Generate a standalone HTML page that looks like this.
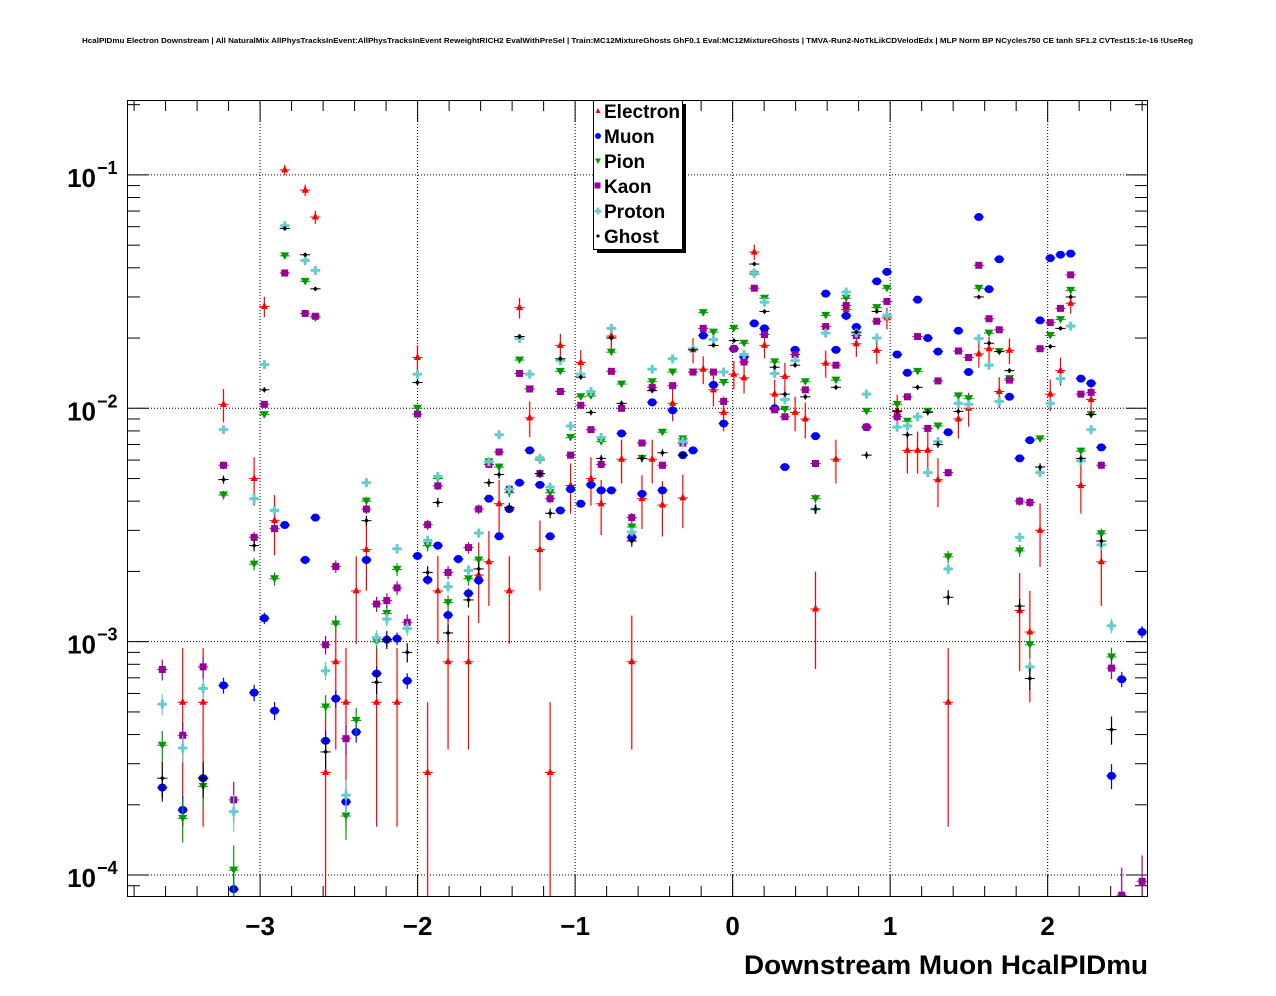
<!DOCTYPE html>
<html><head><meta charset="utf-8"><style>
html,body{margin:0;padding:0;background:#fff;}
svg{display:block;font-family:"Liberation Sans",Arial,sans-serif;}
</style></head><body>
<svg id="chart" width="1276" height="996" viewBox="0 0 1276 996" xmlns="http://www.w3.org/2000/svg">
<rect x="0" y="0" width="1276" height="996" fill="#fff"/>
<text x="82" y="43" font-size="7.2" font-weight="bold" textLength="1111" lengthAdjust="spacingAndGlyphs">HcalPIDmu Electron Downstream | All NaturalMix AllPhysTracksInEvent:AllPhysTracksInEvent ReweightRICH2 EvalWithPreSel | Train:MC12MixtureGhosts GhF0.1 Eval:MC12MixtureGhosts | TMVA-Run2-NoTkLikCDVelodEdx | MLP Norm BP NCycles750 CE tanh SF1.2 CVTest15:1e-16 !UseReg</text>
<g id="grid"></g>
<g id="axes"></g>
<g id="marks" clip-path="url(#plotclip)"></g>
<defs><clipPath id="plotclip"><rect x="127" y="100" width="1021" height="797"/></clipPath></defs>
<rect x="127.5" y="100.5" width="1020" height="796" fill="none" stroke="#000" stroke-width="1"/>
<g id="legend"></g>
<text x="744" y="974" font-size="27" font-weight="bold" textLength="404" lengthAdjust="spacingAndGlyphs">Downstream Muon HcalPIDmu</text>
</svg>
<script>
// ---- data (bin indices and values per species) ----
const electronBins=[2,4,6,9,10,11,12,14,15,16,17,18,19,20,21,23,25,26,27,28,30,31,32,33,34,35,36,37,38,39,40,41,42,43,44,45,46,47,48,49,50,51,52,53,54,55,56,57,58,59,60,61,62,63,64,65,66,67,68,70,71,72,73,74,75,76,77,78,79,80,81,82,83,84,85,86,87,88,89,90,91,92];
const electronVals=[5.5e-4,5.5e-4,1.04e-2,5.0e-3,2.73e-2,3.3e-3,0.105,8.6e-2,6.6e-2,2.75e-4,8.2e-4,5.5e-4,1.65e-3,2.48e-3,5.5e-4,5.5e-4,1.65e-2,2.75e-4,1.65e-3,8.2e-4,8.2e-4,1.93e-3,2.2e-3,3.9e-3,1.65e-3,2.7e-2,9.1e-3,2.48e-3,2.75e-4,1.86e-2,4.67e-3,1.57e-2,5.0e-3,3.9e-3,2.04e-2,6.05e-3,8.2e-4,4.1e-3,6.05e-3,3.85e-3,1.05e-2,4.13e-3,1.78e-2,1.47e-2,1.2e-2,9.6e-3,1.4e-2,1.35e-2,4.67e-2,1.86e-2,1.15e-2,1.37e-2,9.6e-3,9.0e-3,1.38e-3,1.56e-2,6.05e-3,2.65e-2,1.89e-2,1.77e-2,2.44e-2,9.8e-3,6.6e-3,6.6e-3,6.6e-3,4.94e-3,5.5e-4,9.0e-3,1.0e-2,1.71e-2,1.8e-2,1.18e-2,1.77e-2,1.36e-3,1.1e-3,3.0e-3,1.15e-2,1.45e-2,2.82e-2,4.67e-3,1.09e-2,2.2e-3];
const muonBins=[0,2,4,6,7,9,10,11,12,14,15,16,17,18,19,20,21,22,23,24,25,26,27,28,29,30,31,32,33,34,35,36,37,38,39,40,41,42,43,44,45,46,47,48,49,50,51,52,53,54,55,56,57,58,59,60,61,62,64,65,66,67,68,69,70,71,72,73,74,75,76,77,78,79,80,81,82,83,84,85,86,87,88,89,90,91,92,93,94,96];
const muonVals=[2.37e-4,1.9e-4,2.6e-4,6.5e-4,8.7e-5,6.05e-4,1.26e-3,5.06e-4,3.16e-3,2.24e-3,3.4e-3,3.76e-4,5.7e-4,2.06e-4,4.1e-4,2.24e-3,7.3e-4,1.02e-3,1.03e-3,6.8e-4,2.33e-3,1.84e-3,2.58e-3,1.3e-3,2.26e-3,1.61e-3,1.83e-3,4.1e-3,2.83e-3,3.7e-3,4.8e-3,6.6e-3,4.7e-3,2.83e-3,3.65e-3,4.5e-3,3.9e-3,4.7e-3,4.45e-3,4.45e-3,7.8e-3,2.8e-3,4.3e-3,1.06e-2,4.45e-3,9.8e-3,6.3e-3,6.6e-3,2.05e-2,1.26e-2,8.6e-3,1.8e-2,1.66e-2,2.31e-2,2.2e-2,1.0e-2,5.6e-3,1.78e-2,7.6e-3,3.1e-2,1.78e-2,2.49e-2,2.23e-2,8.3e-3,3.5e-2,3.84e-2,1.7e-2,1.42e-2,2.92e-2,2.0e-2,1.75e-2,7.9e-3,2.15e-2,1.43e-2,6.6e-2,3.24e-2,4.35e-2,1.12e-2,6.1e-3,7.3e-3,2.38e-2,4.4e-2,4.55e-2,4.6e-2,1.34e-2,1.28e-2,6.8e-3,2.66e-4,6.9e-4,1.1e-3];
const pionBins=[0,2,4,6,7,9,10,11,12,14,15,16,17,18,19,20,21,22,23,25,26,27,28,30,31,32,33,34,35,36,37,38,39,40,41,42,43,44,45,46,47,48,49,50,51,52,53,54,55,56,57,58,59,60,61,63,64,65,66,67,69,70,71,72,73,74,75,76,77,78,79,80,81,82,83,84,85,86,87,88,89,90,91,92,93];
const pionVals=[3.6e-4,1.75e-4,2.4e-4,4.25e-3,1.05e-4,2.15e-3,9.4e-3,1.86e-3,4.5e-2,3.5e-2,2.44e-2,5.25e-4,1.19e-3,1.79e-4,4.6e-4,4.0e-3,1.0e-3,1.32e-3,2.04e-3,1.0e-2,2.58e-3,5.0e-3,1.47e-3,1.86e-3,2.24e-3,5.9e-3,5.6e-3,4.35e-3,1.61e-2,1.21e-2,6.0e-3,4.35e-3,1.44e-2,7.5e-3,1.12e-2,1.13e-2,7.2e-3,1.74e-2,1.27e-2,3.1e-3,6.1e-3,1.3e-2,7.9e-3,1.43e-2,7.4e-3,1.43e-2,2.57e-2,2.12e-2,1.29e-2,2.2e-2,1.9e-2,3.75e-2,2.96e-2,1.58e-2,9.9e-3,1.3e-2,4.1e-3,2.5e-2,1.32e-2,2.96e-2,9.7e-3,2.7e-2,3.27e-2,1.04e-2,8.8e-3,1.44e-2,9.7e-3,8.4e-3,2.31e-3,1.13e-2,1.1e-2,3.27e-2,2.1e-2,1.75e-2,1.34e-2,2.45e-3,9.7e-4,7.4e-3,2.05e-2,2.4e-2,3.2e-2,6.55e-3,9.4e-3,2.9e-3,8.6e-4];
const kaonBins=[0,2,4,6,7,9,10,11,12,14,15,16,17,18,20,21,22,23,24,25,26,27,28,30,31,32,33,34,35,36,37,38,39,40,41,42,43,44,45,46,47,48,49,50,51,52,53,54,55,56,57,58,59,60,61,62,63,64,65,66,67,68,69,70,71,72,73,74,75,76,77,78,79,80,81,82,83,84,85,86,87,88,89,90,91,92,93,94,96];
const kaonVals=[7.6e-4,3.97e-4,7.8e-4,5.7e-3,2.1e-4,2.8e-3,1.04e-2,3.05e-3,3.8e-2,2.55e-2,2.48e-2,9.7e-4,2.1e-3,3.84e-4,3.7e-3,1.45e-3,1.5e-3,1.7e-3,1.21e-3,9.45e-3,3.17e-3,4.65e-3,1.98e-3,2.53e-3,3.7e-3,5.75e-3,6.5e-3,4.5e-3,1.41e-2,1.21e-2,5.25e-3,4.1e-3,1.18e-2,6.3e-3,1.03e-2,8.1e-3,5.75e-3,1.44e-2,1.0e-2,3.4e-3,7.1e-3,1.23e-2,5.7e-3,1.25e-2,7.1e-3,1.43e-2,2.2e-2,1.43e-2,1.07e-2,1.8e-2,1.58e-2,3.27e-2,2.07e-2,9.85e-3,9.2e-3,1.7e-2,1.2e-2,5.8e-3,2.24e-2,1.53e-2,2.76e-2,2.05e-2,8.3e-3,2.36e-2,2.87e-2,9.2e-3,1.12e-2,2.03e-2,8.2e-3,1.31e-2,5.3e-3,1.76e-2,1.65e-2,4.1e-2,2.42e-2,2.17e-2,1.32e-2,4.0e-3,3.95e-3,1.8e-2,2.33e-2,2.68e-2,3.73e-2,1.15e-2,1.17e-2,5.7e-3,7.7e-4,8.2e-5,9.4e-5];
const protonBins=[0,2,4,6,7,9,10,11,12,14,15,16,18,20,21,22,23,24,25,26,27,28,30,31,32,33,34,35,36,37,38,39,40,41,42,43,44,46,48,50,51,52,54,55,57,58,59,60,61,62,64,65,67,68,69,70,71,72,73,74,75,76,77,78,79,80,81,82,84,85,86,87,88,89,90,91,92,93];
const protonVals=[5.4e-4,3.5e-4,6.3e-4,8.1e-3,1.87e-4,4.1e-3,1.54e-2,3.65e-3,6.06e-2,4.3e-2,3.9e-2,7.5e-4,2.2e-4,4.8e-3,1.04e-3,1.25e-3,2.5e-3,1.14e-3,1.4e-2,2.72e-3,5.1e-3,1.72e-3,2.02e-3,2.92e-3,5.9e-3,7.7e-3,4.5e-3,1.99e-2,1.4e-2,6.1e-3,4.6e-3,1.6e-2,8.4e-3,1.4e-2,1.18e-2,7.5e-3,2.2e-2,2.95e-3,1.47e-2,1.63e-2,7.2e-3,1.8e-2,1.97e-2,1.43e-2,1.7e-2,3.8e-2,2.85e-2,1.41e-2,1.09e-2,1.6e-2,3.7e-3,2.1e-2,3.15e-2,2.1e-2,1.15e-2,2.0e-2,2.5e-2,8.3e-3,8.4e-3,9.2e-3,5.3e-3,7.2e-3,2.05e-3,1.05e-2,1.04e-2,1.99e-2,1.53e-2,1.07e-2,2.8e-3,7.8e-4,5.3e-3,1.05e-2,1.34e-2,2.25e-2,5.95e-3,8.1e-3,2.6e-3,1.17e-3];
const ghostBins=[0,4,6,9,10,12,14,15,16,20,21,22,24,25,26,27,28,30,31,32,33,34,35,37,38,39,41,42,43,44,45,46,47,48,49,51,52,54,56,58,59,60,61,62,63,64,66,68,69,70,72,73,74,75,76,77,78,80,81,82,83,84,85,86,87,88,89,90,91,92,93];
const ghostVals=[2.6e-4,2.6e-4,4.95e-3,2.58e-3,1.2e-2,5.9e-2,4.55e-2,3.25e-2,3.37e-4,3.3e-3,6.7e-4,1.02e-3,9e-4,1.29e-2,1.98e-3,3.95e-3,1.09e-3,1.51e-3,2.05e-3,4.8e-3,5.2e-3,3.76e-3,2.03e-2,5.25e-3,3.55e-3,1.63e-2,1.36e-2,9.6e-3,6.1e-3,2.0e-2,1.05e-2,2.7e-3,6.1e-3,1.19e-2,6.45e-3,6.3e-3,1.78e-2,1.86e-2,1.95e-2,4.15e-2,2.6e-2,1.5e-2,1.15e-2,1.53e-2,1.12e-2,3.7e-3,1.23e-2,2.12e-2,6.3e-3,2.6e-2,9.7e-3,7.7e-3,1.23e-2,9.6e-3,7.0e-3,1.55e-3,9.7e-3,3.0e-2,1.9e-2,1.75e-2,1.45e-2,1.42e-3,6.95e-4,5.6e-3,1.84e-2,2.2e-2,3.0e-2,6.1e-3,9.4e-3,2.7e-3,4.2e-4];
const xTickLabels=["\u22123","\u22122","\u22121","0","1","2"];
const xTickValues=[-3,-2,-1,0,1,2];
const yDecades=[-1,-2,-3,-4];
const legendLabels=["Electron","Muon","Pion","Kaon","Proton","Ghost"];

// ---- axes ----
const X0=127,X1=1148,Y0=100,Y1=897;
const xMin=-3.8450,xMax=2.6370;
const logMin=-4.094,logMax=-0.679;
const binFirst=-3.621,binW=0.0648;
function xs(v){return X0+(v-xMin)/(xMax-xMin)*(X1-X0);}
function ys(v){return Y1-(Math.log10(v)-logMin)/(logMax-logMin)*(Y1-Y0);}
function binCenter(k){return binFirst+k*binW;}
const NS="http://www.w3.org/2000/svg";
function mk(tag,attrs,parent){const e=document.createElementNS(NS,tag);for(const k in attrs)e.setAttribute(k,attrs[k]);parent.appendChild(e);return e;}
const grid=document.getElementById('grid'),axes=document.getElementById('axes'),marks=document.getElementById('marks'),legend=document.getElementById('legend');

xTickValues.forEach(v=>{const l=mk('line',{x1:xs(v),x2:xs(v),y1:Y0,y2:Y1,stroke:'#000','stroke-width':1,'stroke-dasharray':'1,2'},grid);

});
yDecades.forEach(d=>{const y=ys(Math.pow(10,d));const l=mk('line',{x1:X0,x2:X1,y1:y,y2:y,stroke:'#000','stroke-width':1,'stroke-dasharray':'1,2'},grid);

});

for(let i=-19;i<=13;i++){const v=i*0.2;if(v<xMin||v>xMax)continue;const major=Math.abs(v-Math.round(v))<1e-6;const L=major?22:11;const x=xs(v);
const t1=mk('line',{x1:x,x2:x,y1:Y1,y2:Y1-L,stroke:'#000'},axes);


const t2=mk('line',{x1:x,x2:x,y1:Y0,y2:Y0+L,stroke:'#000'},axes);

}
xTickValues.forEach((v,i)=>{const t=mk('text',{x:xs(v),y:935,'font-size':26,'font-weight':'bold','text-anchor':'middle'},axes);t.textContent=xTickLabels[i];

});

for(let d=-5;d<=-1;d++){for(let m=1;m<=9;m++){const v=m*Math.pow(10,d);const lv=Math.log10(v);if(lv<logMin||lv>logMax)continue;const L=m===1?22:13;const y=ys(v);
const t1=mk('line',{x1:X0,x2:X0+L,y1:y,y2:y,stroke:'#000'},axes);


const t2=mk('line',{x1:X1,x2:X1-L,y1:y,y2:y,stroke:'#000'},axes);

}}
yDecades.forEach(d=>{const y=ys(Math.pow(10,d));const t=mk('text',{x:96,y:y+12,'font-size':26,'font-weight':'bold','text-anchor':'end'},axes);t.textContent='10';


const s=mk('text',{x:97,y:y-1,'font-size':18,'font-weight':'bold'},axes);s.textContent='\u2212'+(-d);

});

function marker(g,type,x,y,col){
  if(type==='tri')mk('polygon',{points:`${x},${y-4.5} ${x-3.5},${y+2.5} ${x+3.5},${y+2.5}`,fill:col},g);
  else if(type==='circ')mk('ellipse',{cx:x,cy:y,rx:4.5,ry:4,fill:col},g);
  else if(type==='tridown')mk('polygon',{points:`${x-4.5},${y-3.5} ${x+4.5},${y-3.5} ${x},${y+4}`,fill:col},g);
  else if(type==='sq')mk('rect',{x:x-3.5,y:y-3.5,width:7,height:7,fill:col},g);
  else if(type==='cross'){mk('rect',{x:x-4.5,y:y-1.5,width:9,height:3,fill:col},g);mk('rect',{x:x-1.5,y:y-4.5,width:3,height:9,fill:col},g);}
  else if(type==='dot')mk('polygon',{points:`${x},${y-2.5} ${x+2.5},${y} ${x},${y+2.5} ${x-2.5},${y}`,fill:col},g);
}
const series=[
 {name:'electron',bins:electronBins,vals:electronVals,col:'#ff0000',type:'tri',unit:2.75e-4},
 {name:'muon',bins:muonBins,vals:muonVals,col:'#0000ff',type:'circ',unit:4e-6},
 {name:'pion',bins:pionBins,vals:pionVals,col:'#009900',type:'tridown',unit:8e-6},
 {name:'kaon',bins:kaonBins,vals:kaonVals,col:'#990099',type:'sq',unit:8e-6},
 {name:'proton',bins:protonBins,vals:protonVals,col:'#66cccc',type:'cross',unit:6e-6},
 {name:'ghost',bins:ghostBins,vals:ghostVals,col:'#000000',type:'dot',unit:8e-6}
];
series.forEach(s=>{
  const g=mk('g',{},marks);
  
  
  s.bins.forEach((k,i)=>{
    const v=s.vals[i];const xc=binCenter(k);const x=xs(xc),y=ys(v);
    const err=Math.sqrt(v*s.unit);
    const pg=mk('g',{},g);
    
    
    mk('line',{x1:xs(xc-binW/2),x2:xs(xc+binW/2),y1:y,y2:y,stroke:s.col,'stroke-width':1},pg);
    const lo=v-err>0?ys(v-err):Y1+20;const hi=ys(v+err);
    mk('line',{x1:x,x2:x,y1:hi,y2:lo,stroke:s.col,'stroke-width':1.2},pg);
    marker(pg,s.type,x,y,s.col);
  });
});

mk('rect',{x:597,y:104,width:89,height:149,fill:'#000'},legend);
const lb=mk('rect',{x:593.5,y:100.5,width:89,height:149,fill:'#fff',stroke:'#000','stroke-width':1},legend);


legendLabels.forEach((lab,i)=>{const y=111+i*25;const eg=mk('g',{},legend);


const s=series[i];
if(s.type==='tri')mk('polygon',{points:`598,${y-3} 595.5,${y+2} 600.5,${y+2}`,fill:s.col},eg);
else if(s.type==='circ')mk('circle',{cx:598,cy:y,r:3,fill:s.col},eg);
else if(s.type==='tridown')mk('polygon',{points:`595,${y-2.5} 601,${y-2.5} 598,${y+3}`,fill:s.col},eg);
else if(s.type==='sq')mk('rect',{x:594.5,y:y-3.5,width:6,height:6,fill:s.col},eg);
else if(s.type==='cross'){mk('rect',{x:594.5,y:y-1,width:7,height:2.5,fill:s.col},eg);mk('rect',{x:596.8,y:y-3.5,width:2.5,height:7,fill:s.col},eg);}
else mk('polygon',{points:`598,${y-2} 600,${y} 598,${y+2} 596,${y}`,fill:s.col},eg);
const t=mk('text',{x:604,y:y+7,'font-size':19,'font-weight':'bold'},eg);t.textContent=lab;});
</script>
</body></html>
